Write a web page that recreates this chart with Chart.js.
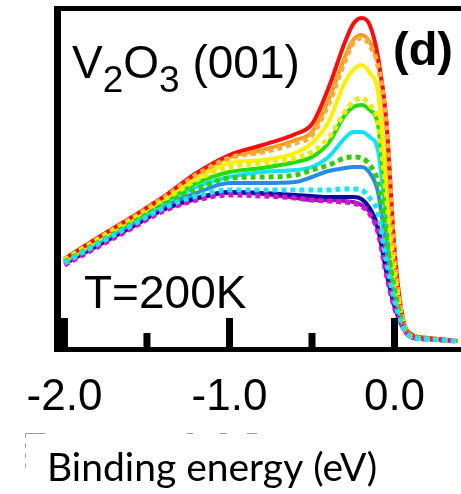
<!DOCTYPE html>
<html>
<head>
<meta charset="utf-8">
<script src="https://cdn.jsdelivr.net/npm/chart.js@4/dist/chart.umd.min.js"></script>
<style>
  html, body { margin: 0; padding: 0; background: #fff; }
  #wrap { position: relative; width: 461px; height: 494px; }
</style>
</head>
<body>
<div id="wrap"><canvas id="spectra"></canvas></div>
<script>
// binding energy grid (eV) shared by every spectrum
const energy = [-2.0, -1.8, -1.6, -1.4, -1.2, -1.0, -0.8, -0.6, -0.5, -0.4, -0.3, -0.25, -0.2, -0.15, -0.1, -0.05, 0.0, 0.05, 0.1, 0.2, 0.38];

// photoemission intensity (arb. units), one array per spectrum
const redLine     = [89, 110, 130, 151, 175, 193, 203, 214, 224, 260, 306, 324, 330, 323, 291, 228, 98, 30, 14, 10, 7];
const orangeLine  = [89, 110, 130, 151, 174, 191, 198, 208, 216, 248, 291, 308, 313, 306, 285, 228, 98, 30, 14, 10, 7];
const orangeDots  = [88, 109, 129, 150, 173, 190, 196, 205, 213, 244, 287, 305, 310, 303, 282, 223, 93, 28, 13, 10, 7];
const yellowLine  = [88, 108, 128, 149, 170, 185, 188, 195, 205, 226, 266, 278, 283, 275, 256, 168, 83, 28, 13, 10, 7];
const yellowDots  = [88, 108, 127, 147, 168, 181, 185, 190, 196, 210, 236, 246, 250, 243, 226, 153, 76, 26, 12, 9, 7];
const greenLine   = [87, 107, 126, 146, 165, 176, 180, 186, 191, 205, 233, 241, 243, 238, 223, 138, 68, 26, 12, 9, 7];
const cyanLine    = [86, 106, 125, 144, 161, 171, 176, 178, 181, 191, 210, 216, 216, 211, 198, 128, 63, 25, 12, 9, 7];
const greenDots   = [86, 105, 124, 143, 159, 170, 171, 173, 178, 183, 190, 191, 190, 183, 165, 108, 58, 24, 12, 9, 7];
const blueLine    = [86, 105, 123, 142, 155, 165, 165, 166, 171, 177, 180, 181, 181, 175, 156, 100, 53, 23, 11, 9, 7];
const cyanDots    = [85, 104, 122, 140, 152, 158, 158, 158, 158, 158, 159, 159, 158, 150, 135, 88, 48, 22, 11, 9, 7];
const navyLine    = [85, 103, 121, 139, 150, 156, 155, 153, 152, 151, 151, 151, 149, 140, 121, 78, 43, 21, 11, 9, 7];
const purpleLine  = [84, 102, 120, 138, 149, 155, 154, 150, 148, 148, 147, 146, 143, 136, 118, 76, 41, 21, 11, 9, 7];
const magentaDots = [83, 101, 119, 137, 148, 153, 152, 150, 148, 147, 146, 145, 142, 134, 116, 74, 40, 21, 11, 9, 7];

// axis ticks
const majorTicks = [-2.0, -1.0, 0.0];
const minorTicks = [-1.5, -0.5];
const tickLabels = ['-2.0', '-1.0', '0.0'];

// drawing order: first entry ends up on top
const series = [
  { values: cyanDots,    color: '#1fe3f2', dotted: true },
  { values: magentaDots, color: '#d414d4', dotted: true },
  { values: greenDots,   color: '#2fcf08', dotted: true },
  { values: yellowDots,  color: '#ecec00', dotted: true },
  { values: orangeDots,  color: '#ffab3a', dotted: true },
  { values: redLine,     color: '#ff0d0d', dotted: false },
  { values: orangeLine,  color: '#ff9b1c', dotted: false },
  { values: yellowLine,  color: '#fbf000', dotted: false },
  { values: greenLine,   color: '#22db12', dotted: false },
  { values: cyanLine,    color: '#12e2ff', dotted: false },
  { values: blueLine,    color: '#2a8ae8', dotted: false },
  { values: navyLine,    color: '#0b0ba2', dotted: false },
  { values: purpleLine,  color: '#9a1aa8', dotted: false }
];

const datasets = series.map(s => ({
  data: energy.map((e, i) => ({ x: e, y: s.values[i] })),
  borderColor: s.color,
  borderWidth: s.dotted ? 5 : 4,
  borderDash: s.dotted ? [5, 4] : [],
  borderCapStyle: 'butt',
  pointRadius: 0,
  fill: false,
  cubicInterpolationMode: 'monotone'
}));

// frame, inward ticks and all the lettering
const framePlugin = {
  id: 'frame',
  afterDatasetsDraw(chart) {
    const ctx = chart.ctx;
    const area = chart.chartArea;
    const xs = chart.scales.x;
    ctx.save();
    ctx.fillStyle = '#000';
    ctx.fillRect(area.left - 7, area.top - 5, 7, area.bottom - area.top + 9);
    ctx.fillRect(area.left - 7, area.top - 5, chart.width, 5);
    ctx.fillRect(area.left - 7, area.bottom - 1, chart.width, 5);

    majorTicks.forEach(v => {
      const px = xs.getPixelForValue(v);
      ctx.fillRect(px - 3.5, area.bottom - 30, 7, 30);
    });
    minorTicks.forEach(v => {
      const px = xs.getPixelForValue(v);
      ctx.fillRect(px - 3.5, area.bottom - 15, 7, 15);
    });

    ctx.textAlign = 'center';
    ctx.textBaseline = 'alphabetic';
    ctx.font = '44px "Liberation Sans", Arial, sans-serif';
    majorTicks.forEach((v, i) => {
      ctx.fillText(tickLabels[i], xs.getPixelForValue(v), area.bottom + 62);
    });

    // sample label with subscripts
    ctx.textAlign = 'left';
    let x = 72;
    const parts = [['V', false], ['2', true], ['O', false], ['3', true], [' (001)', false]];
    parts.forEach(([txt, sub]) => {
      ctx.font = sub ? '37px "Liberation Sans", Arial, sans-serif' : '46px "Liberation Sans", Arial, sans-serif';
      ctx.fillText(txt, x, sub ? 92 : 78);
      x += ctx.measureText(txt).width;
    });

    ctx.font = 'bold 47px "Liberation Sans", Arial, sans-serif';
    ctx.fillText('(d)', 393, 65);

    ctx.font = '46px "Liberation Sans", Arial, sans-serif';
    ctx.fillText('T=200K', 84, 308);

    // axis title, sized to span its box
    const title = 'Binding energy (eV)';
    ctx.font = '40px Lato, "Open Sans", sans-serif';
    const w = ctx.measureText(title).width;
    const size = 40 * 330 / w;
    ctx.font = size.toFixed(1) + 'px Lato, "Open Sans", sans-serif';
    ctx.fillText(title, 47, 481);

    // faint outline left over from the title's text box
    ctx.strokeStyle = '#9a9a9a';
    ctx.lineWidth = 1;
    ctx.beginPath();
    ctx.moveTo(25.5, 433.5); ctx.lineTo(45, 433.5);
    ctx.moveTo(187, 433.5); ctx.lineTo(193, 433.5);
    ctx.moveTo(220, 433.5); ctx.lineTo(227, 433.5);
    ctx.moveTo(247, 433.5); ctx.lineTo(257, 433.5);
    ctx.stroke();
    ctx.setLineDash([4, 6]);
    ctx.beginPath();
    ctx.moveTo(25.5, 433.5); ctx.lineTo(25.5, 470);
    ctx.stroke();
    ctx.restore();
  }
};

new Chart(document.getElementById('spectra').getContext('2d'), {
  type: 'line',
  data: { datasets: datasets },
  options: {
    responsive: true,
    maintainAspectRatio: false,
    animation: false,
    devicePixelRatio: 1,
    layout: { padding: { left: 61, right: 0, top: 11, bottom: 146 } },
    scales: {
      x: { type: 'linear', min: -2.021, max: 0.403, display: false },
      y: { type: 'linear', min: 0, max: 337, display: false }
    },
    plugins: {
      legend: { display: false },
      tooltip: { enabled: false }
    }
  },
  plugins: [framePlugin]
});
</script>
</body>
</html>
